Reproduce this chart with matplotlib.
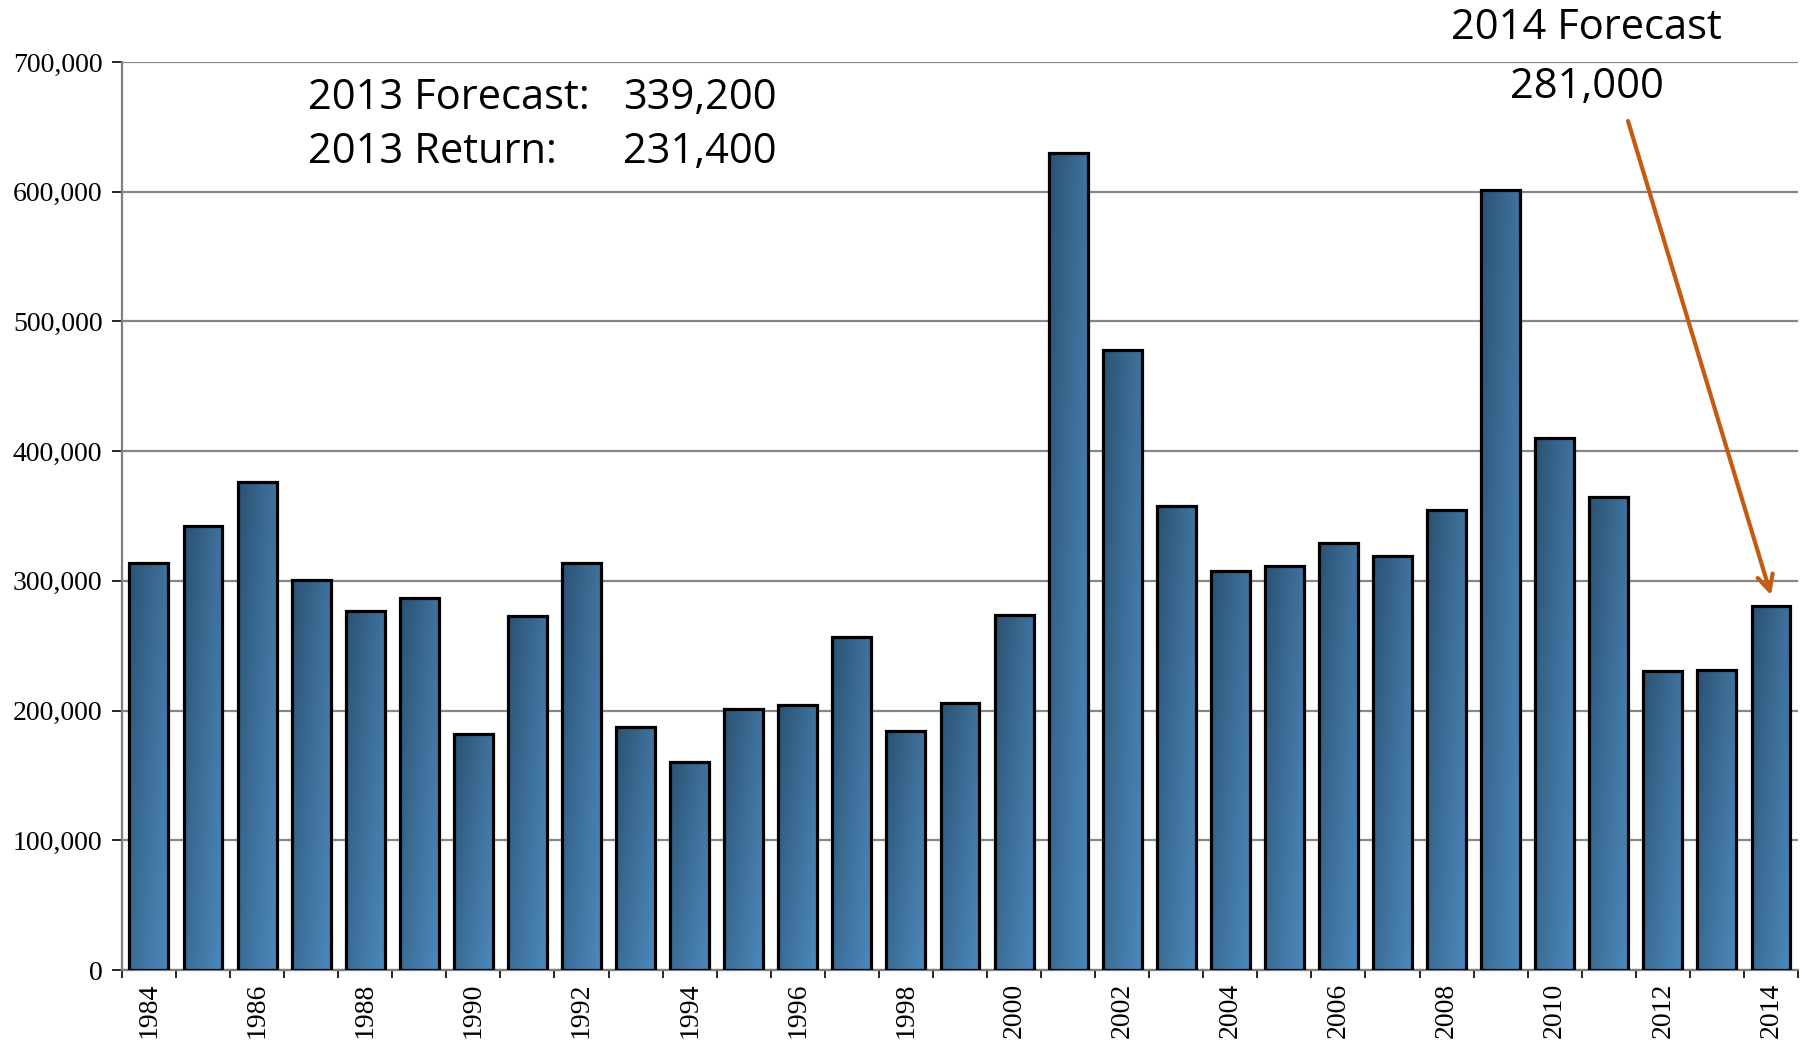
import numpy as np
import matplotlib.pyplot as plt
from matplotlib.colors import LinearSegmentedColormap

# data
years = list(range(1984, 2015))
returns = [314000, 342500, 376000, 301000, 277000, 286500, 182000, 273000,
           313500, 187000, 160500, 201500, 204000, 257000, 184500, 206000,
           274000, 630000, 478000, 357500, 308000, 311500, 329000, 319500,
           355000, 601500, 410000, 365000, 230800, 231400, 281000]
y_ticks = [0, 100000, 200000, 300000, 400000, 500000, 600000, 700000]

fig = plt.figure(figsize=(18.06, 10.41), dpi=100)
ax = fig.add_axes([0.0675, 0.0682, 0.9281, 0.8722])

cmap = LinearSegmentedColormap.from_list('bar', ['#2c5374', '#3d6f99', '#4a88bb'])
xs = np.arange(len(years))
width = 0.72

# gradient per bar: dark at top-left, light at bottom-right
rows, cols = 60, 12
yy, xx = np.mgrid[0:rows, 0:cols]
grad = 0.55 * xx / (cols - 1) + 0.45 * yy / (rows - 1)

bars = ax.bar(xs, returns, width=width, facecolor='none', edgecolor='black',
              linewidth=2.3, zorder=4)
for b in bars:
    x0 = b.get_x()
    h = b.get_height()
    im = ax.imshow(grad, cmap=cmap, vmin=0, vmax=1, aspect='auto',
                   extent=[x0, x0 + width, 0, h], zorder=3, interpolation='bilinear')
    im.set_clip_path(b)

ax.set_xlim(-0.5, len(years) - 0.5)
ax.set_ylim(0, 700000)
ax.set_yticks(y_ticks)
ax.set_yticklabels([f'{v:,}' for v in y_ticks], fontfamily='Liberation Serif', fontsize=20)
ax.yaxis.grid(True, color='#868686', linewidth=1.6, zorder=0)
ax.set_axisbelow(True)

# ticks between categories, labels on every other year
ax.set_xticks(np.arange(len(years) + 1) - 0.5)
ax.set_xticklabels([])
ax.set_xticks(xs[::2], minor=True)
ax.set_xticklabels([str(y) for y in years[::2]], minor=True, rotation=90,
                   fontfamily='Liberation Serif', fontsize=20)
ax.tick_params(axis='x', which='major', length=6, width=1.2, color='black')
ax.tick_params(axis='x', which='minor', length=0, pad=9)
ax.tick_params(axis='y', length=7, width=1.2, color='black', pad=7)

for s in ['top', 'right']:
    ax.spines[s].set_visible(False)
ax.spines['left'].set_color('#7f7f7f')
ax.spines['left'].set_linewidth(1.6)
ax.spines['bottom'].set_color('#7f7f7f')
ax.spines['bottom'].set_linewidth(1.6)

font = 'Open Sans'
fs = 30
ax.text(0.111, 0.948, '2013 Forecast:', transform=ax.transAxes, fontsize=fs,
        fontfamily=font, va='baseline', ha='left')
ax.text(0.299, 0.948, '339,200', transform=ax.transAxes, fontsize=fs,
        fontfamily=font, va='baseline', ha='left')
ax.text(0.111, 0.889, '2013 Return:', transform=ax.transAxes, fontsize=fs,
        fontfamily=font, va='baseline', ha='left')
ax.text(0.299, 0.889, '231,400', transform=ax.transAxes, fontsize=fs,
        fontfamily=font, va='baseline', ha='left')

fig.text(0.8787, 0.9625, '2014 Forecast', fontsize=fs, fontfamily=font,
         ha='center', va='baseline')
fig.text(0.8787, 0.9059, '281,000', fontsize=fs, fontfamily=font,
         ha='center', va='baseline')

ax.annotate('', xy=(30, 289000), xytext=(1628 / 1806, 1 - 121 / 1041),
            textcoords='figure fraction',
            arrowprops=dict(arrowstyle='->', color='#c55a11', lw=3,
                            mutation_scale=28, shrinkA=0, shrinkB=0),
            annotation_clip=False, zorder=6)

fig.savefig('out.png', dpi=100)
